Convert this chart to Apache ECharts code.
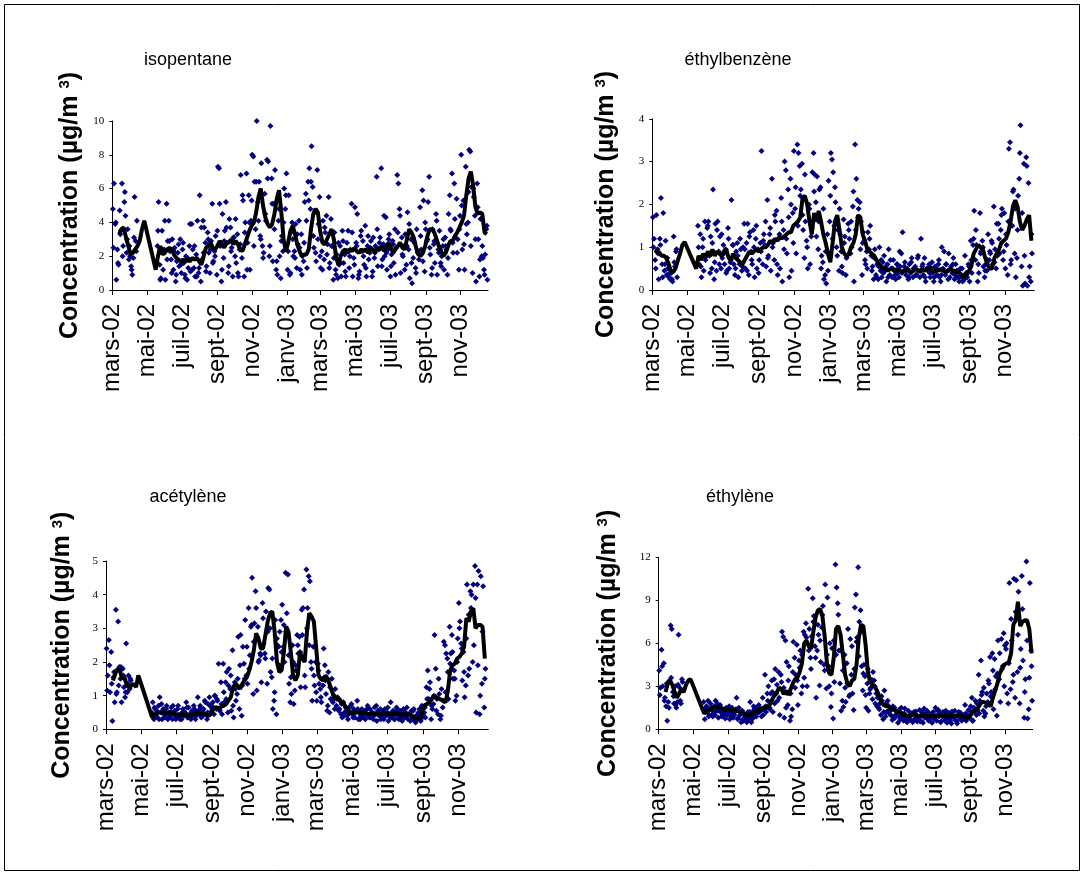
<!DOCTYPE html>
<html><head><meta charset="utf-8">
<script src="https://cdn.jsdelivr.net/npm/echarts@6/dist/echarts.min.js"></script>
<style>html,body{margin:0;padding:0;background:#fff}#c{width:1085px;height:877px}</style>
</head><body><div id="c"></div><script>
// ---------- axis labels ----------
const monthLabels = ['mars-02','mai-02','juil-02','sept-02','nov-02','janv-03','mars-03','mai-03','juil-03','sept-03','nov-03'];
const tickDates = ['2002-03-01','2002-05-01','2002-07-01','2002-09-01','2002-11-01','2003-01-01','2003-03-01','2003-05-01','2003-07-01','2003-09-01','2003-11-01'];
const titles = ['isopentane','éthylbenzène','acétylène','éthylène'];
const yTitle = '{a|Concentration (µg/m }{s|3}{a|)}';

// ---------- sampling days (days since 1 March 2002) ----------
const scatterDaysA = [1,3,5,7,9,11,13,15,17,19,21,23,25,27,29,31,33,35,37,39,41,43];
const scatterDaysD = [2,6,10,14,18,22,26,30,34,38,42];
const scatterDaysB = []; for (let d = 79; d <= 657; d += 2) scatterDaysB.push(d);
const scatterDaysC = []; for (let d = 80; d <= 656; d += 4) scatterDaysC.push(d);
const lineDays = []; for (let d = 4; d <= 656; d += 4) lineDays.push(d);

// ---------- isopentane ----------
const isoA = [4.8,6.3,3.9,0.6,2.4,1.5,4.7,3.5,6.3,2.6,5.2,4.4,2.2,3.6,1.8,2.0,1.4,0.9,1.9,5.5,2.9,4.1];
const isoD = [2.5,4.0,1.6,3.3,2.0,5.8,3.0,2.6,1.2,3.1,2.3];
const isoB = [
2.6,5.2,1.5,0.7,3.5,1.2,2.4,0.6,5.1,2.9,
4.1,2.3,1.8,3.0,1.2,2.5,0.5,1.7,2.2,1.4,
3.0,1.0,2.4,1.6,0.9,2.0,0.6,1.3,2.6,1.1,
3.9,2.4,1.3,0.8,2.1,4.1,1.0,5.6,0.5,1.8,
4.1,3.7,2.8,1.4,3.4,2.2,1.0,2.9,5.1,1.7,
2.3,3.2,0.9,7.3,7.2,2.6,0.5,4.5,1.9,3.5,
5.2,2.8,1.0,4.2,3.7,2.5,0.8,3.1,2.0,1.6,
3.3,0.8,2.4,6.8,1.9,5.3,0.8,4.0,6.9,2.8,
5.6,1.2,4.1,8.0,7.9,6.4,3.6,10.0,5.2,6.4,
3.2,7.5,2.6,2.2,5.7,4.1,7.7,7.6,2.0,9.7,
6.6,1.7,5.1,7.1,1.2,0.9,4.1,2.0,0.7,3.2,
2.3,6.0,4.8,6.9,1.2,5.6,0.9,3.4,4.0,2.0,
2.3,3.9,1.3,2.7,4.1,1.2,3.3,2.0,1.7,5.2,
5.7,1.3,6.4,7.2,4.8,8.5,6.1,2.5,4.6,1.7,
7.1,3.9,5.5,1.3,2.3,4.1,1.8,3.4,4.4,2.7,
5.5,1.6,4.2,2.6,0.6,3.4,1.2,2.1,0.7,1.5,
2.6,0.8,3.5,1.6,2.1,0.8,2.8,3.5,1.3,2.4,
5.1,0.8,1.9,4.9,2.8,4.5,0.7,1.1,3.2,2.3,
2.9,1.5,3.8,0.8,2.6,1.8,2.2,2.9,0.8,3.1,
1.9,2.6,6.7,1.4,2.4,3.1,7.2,1.8,2.7,2.0,
4.3,1.2,2.4,3.3,0.8,2.1,2.9,1.6,3.6,2.5,
6.8,6.3,4.8,1.0,3.1,2.0,2.6,3.3,1.5,4.6,
2.4,0.7,3.0,0.4,1.9,2.8,1.3,3.6,2.2,1.8,
4.9,2.4,5.9,5.3,1.1,3.6,2.9,5.2,6.7,2.1,
0.9,3.6,2.7,1.6,4.5,0.9,2.4,3.5,1.6,2.0,
2.6,1.2,3.1,2.4,0.9,4.5,5.6,3.5,6.9,2.2,
6.3,3.1,5.4,3.0,1.2,4.4,8.0,2.4,5.3,1.2,
7.3,3.3,4.0,8.3,8.2,6.1,1.0,5.5,4.4,0.5,
6.3,3.0,0.8,4.2,2.0,1.9,1.2,2.1,3.6,0.6];
const isoC = [
3.5,0.6,2.4,4.1,1.8,2.9,1.0,2.3,0.9,2.7,
1.5,2.8,0.7,1.9,3.9,1.2,2.6,0.8,1.3,3.7,
2.2,1.1,3.0,2.4,1.6,2.0,3.5,5.1,1.2,2.9,
3.7,1.4,2.3,3.1,4.2,1.0,2.7,5.6,3.4,1.2,
4.0,5.3,2.6,6.4,4.1,3.0,1.9,4.5,6.6,2.6,
5.1,3.6,1.7,4.8,2.9,4.0,5.6,2.3,1.0,3.0,
1.9,3.3,2.5,0.9,2.8,4.1,5.3,6.4,3.2,2.2,
3.0,2.0,1.2,3.7,2.1,1.3,2.6,1.9,0.9,2.8,
1.6,2.9,1.1,2.3,2.0,3.4,1.5,2.6,0.9,3.5,
2.0,1.3,3.2,2.5,1.1,2.2,3.6,2.8,1.4,4.4,
2.2,3.0,1.4,2.7,0.9,3.4,4.4,2.1,1.2,2.6,
3.9,1.6,2.9,1.0,2.3,3.2,1.7,4.0,3.0,2.5,
1.3,2.9,4.1,2.2,1.4,3.0,2.6,1.9,3.6,2.8,
4.2,2.2,3.6,5.0,2.7,3.9,5.8,2.6,6.0,3.0,
4.9,1.8,2.6,0.9,3.8];
const isoLine = [
null,null,3.3,3.6,3.7,3.1,2.6,2.1,2.2,2.4,
2.6,2.9,3.6,4.1,null,null,null,null,1.2,2.0,
2.6,2.1,2.2,2.4,2.5,2.4,2.1,1.9,1.8,1.7,
1.8,1.7,1.8,1.7,1.9,1.8,1.9,1.7,1.5,2.0,
2.5,2.6,2.8,2.5,2.4,2.6,2.9,2.7,2.5,2.8,
2.8,3.0,2.7,2.9,2.7,2.4,2.3,2.7,3.1,3.5,
3.8,4.0,4.6,5.5,6.0,5.0,4.3,3.9,3.7,3.9,
4.5,5.4,5.9,4.6,3.0,2.3,2.8,3.5,3.8,3.3,
2.7,2.3,2.0,2.1,2.1,2.4,3.6,4.5,4.8,4.6,
3.5,2.8,2.7,3.0,3.3,3.6,3.0,1.9,1.5,2.0,
2.3,2.4,2.2,2.4,2.3,2.5,2.3,2.2,2.4,2.3,
2.4,2.2,2.5,2.4,2.2,2.5,2.4,2.6,2.3,2.6,
2.8,2.5,2.2,2.4,2.6,2.8,2.5,2.4,3.0,3.6,
3.4,3.1,2.5,2.1,2.0,2.2,2.6,3.2,3.6,3.6,
3.4,3.0,2.6,2.3,2.0,2.2,2.6,2.9,2.9,3.2,
3.4,3.7,4.0,4.4,5.6,6.6,7.0,6.2,4.9,4.5,
4.6,4.5,3.4,3.3];

// ---------- éthylbenzène ----------
const ethbA = [1.7,1.2,0.7,1.75,0.95,0.25,1.2,2.15,0.6,1.8,0.45,1.15,0.35,0.5,0.3,0.25,0.4,0.2,1.25,0.55,0.9,0.3];
const ethbD = [1.0,0.5,0.85,1.05,0.3,0.6,0.75,0.4,0.25,0.65,0.95];
const ethbB = [
1.5,0.6,1.3,0.3,1.0,0.45,1.6,0.8,1.45,1.6,
0.8,1.25,0.5,2.35,0.25,1.55,0.45,1.6,0.9,1.25,
0.5,0.75,1.05,0.6,0.95,0.45,1.45,0.5,0.65,2.1,
1.05,0.6,0.35,0.9,1.1,0.3,0.6,0.95,0.45,1.0,
1.55,0.5,1.1,1.55,0.35,1.35,0.9,0.6,1.4,0.3,
1.2,0.5,0.95,0.7,1.1,3.25,0.6,1.3,1.05,0.55,
2.1,0.8,1.3,0.45,2.6,1.1,0.7,1.6,1.85,0.35,
1.2,0.5,2.15,0.2,1.4,3.0,2.8,0.85,2.35,0.3,
2.6,0.45,1.8,3.25,1.9,0.85,3.4,3.2,2.9,2.35,
2.95,1.4,0.75,1.6,1.15,0.5,2.0,0.6,1.25,2.75,
3.2,2.7,2.05,2.65,0.95,2.35,2.4,0.8,0.65,0.25,
0.35,0.15,1.3,2.55,1.6,3.2,3.05,2.75,1.5,2.05,
1.0,1.4,0.45,1.3,0.9,0.4,1.65,1.25,0.35,0.8,
1.55,1.2,0.85,1.0,1.95,0.2,3.4,2.6,2.1,1.9,
2.05,1.6,0.35,1.35,1.15,0.6,0.9,1.35,0.95,1.5,
0.8,0.55,0.25,0.95,0.35,0.6,0.25,1.0,0.45,0.3,
0.65,0.8,0.45,0.2,0.6,0.95,0.35,0.5,0.3,0.7,
0.45,0.25,0.6,0.4,0.3,0.55,0.85,1.35,0.45,0.65,
0.35,0.5,0.25,0.6,0.4,0.75,0.3,0.5,0.55,0.35,
0.75,0.45,0.3,1.2,0.55,0.35,0.75,0.2,0.5,0.45,
0.6,0.3,0.5,0.4,0.2,0.55,0.45,0.35,0.6,0.3,
0.2,1.0,0.5,0.9,0.35,0.6,0.45,0.85,0.3,0.55,
0.4,0.75,0.25,0.6,0.45,0.3,0.2,0.5,0.35,0.2,
0.25,0.8,0.4,0.3,0.6,0.2,1.15,0.4,1.05,1.85,
0.7,1.05,0.2,0.4,1.8,0.9,1.15,0.55,0.3,0.6,
0.45,1.3,0.7,0.85,1.15,0.6,1.95,0.95,0.5,0.8,
1.55,0.85,1.4,1.9,0.7,1.8,0.5,1.05,0.35,3.3,
3.45,0.7,1.5,2.35,0.85,0.3,0.75,2.2,2.6,3.85,
0.55,0.1,2.95,0.15,3.1,0.1,2.5,0.55,0.2,0.85];
const ethbC = [
1.0,0.55,1.2,0.7,1.5,0.4,1.1,0.65,1.4,0.6,
1.3,0.85,0.4,1.2,0.7,1.05,0.5,0.8,1.2,0.55,
0.95,0.45,1.25,0.7,1.0,1.5,0.4,0.9,1.15,1.6,
0.75,1.45,1.0,1.75,0.6,1.3,1.6,0.95,1.2,1.7,
2.0,1.1,2.4,1.5,2.2,1.75,2.7,1.0,1.9,1.45,
2.3,1.25,1.6,0.5,1.9,0.9,0.45,2.2,1.2,2.4,
0.8,1.9,0.55,1.1,0.75,1.4,1.6,2.3,1.4,1.7,
0.95,1.1,0.7,0.5,1.2,0.45,0.75,0.3,0.55,0.7,
0.4,0.55,0.3,0.7,0.5,0.35,0.6,0.9,0.4,0.55,
0.45,0.3,0.65,0.5,0.35,0.8,0.45,0.6,0.3,0.5,
0.4,0.65,0.3,0.5,0.7,0.35,0.45,0.6,0.25,0.5,
0.6,0.35,0.45,0.3,0.5,0.25,0.4,0.55,0.7,1.2,
1.4,0.6,0.85,1.0,0.45,0.7,0.9,1.1,0.65,1.55,
1.2,1.75,0.9,1.3,1.6,0.6,2.3,1.9,1.4,3.2,
1.8,0.8,2.9,0.3,1.3];
const ethbLine = [
0.93,0.9,0.88,0.8,0.8,0.75,0.62,0.45,0.42,0.5,
0.68,0.85,1.05,1.12,null,null,null,null,0.5,0.8,
0.7,0.85,0.75,0.9,0.8,0.95,0.8,0.9,0.85,0.8,
0.9,0.95,0.75,0.7,0.85,0.75,0.7,0.65,0.6,0.7,
0.8,0.9,0.85,0.9,0.95,0.9,0.95,1.0,1.0,1.05,
1.15,1.1,1.2,1.15,1.25,1.2,1.25,1.3,1.35,1.35,
1.5,1.55,1.6,1.7,2.15,2.2,2.0,1.6,1.3,1.8,
1.6,1.85,1.6,1.3,1.1,0.85,0.65,1.1,1.6,1.75,
1.4,1.0,0.85,0.8,0.85,1.0,1.1,1.3,1.75,1.7,
1.3,1.15,0.95,0.9,0.85,0.8,0.7,0.6,0.55,0.5,
0.5,0.45,0.5,0.48,0.45,0.5,0.45,0.42,0.45,0.48,
0.45,0.42,0.45,0.5,0.45,0.42,0.48,0.45,0.5,0.55,
0.45,0.42,0.48,0.45,0.5,0.45,0.42,0.45,0.5,0.45,
0.45,0.42,0.4,0.3,0.35,0.35,0.45,0.55,0.85,0.95,
1.05,1.0,0.95,0.75,0.6,0.5,0.5,0.75,0.85,0.95,
1.1,1.15,1.2,1.35,1.6,1.95,2.1,1.95,1.6,1.4,
1.5,1.65,1.75,1.15];

// ---------- acétylène ----------
const acetA = [2.4,1.6,2.65,1.1,2.3,0.25,1.55,0.8,3.55,1.1,3.2,1.85,1.5,0.8,1.8,1.25,0.95,2.55,1.1,1.6,1.2,1.45];
const acetD = [1.15,1.9,1.35,1.7,1.05,1.3,1.85,1.6,1.1,1.35,1.5];
const acetB = [
0.5,0.8,0.3,0.6,0.45,0.35,0.7,0.95,0.5,0.3,
0.6,0.35,0.45,0.7,0.3,0.5,0.4,0.65,0.3,0.45,
0.55,0.3,0.4,0.7,0.35,0.45,0.3,0.6,0.4,0.5,
0.8,0.35,0.65,0.45,0.3,0.55,0.4,0.6,0.3,0.5,
0.95,0.45,0.7,0.35,0.55,0.6,0.85,0.45,0.3,0.75,
0.95,0.5,0.7,0.8,0.45,1.0,0.6,0.85,1.95,0.55,
1.4,0.45,1.95,0.8,1.4,1.7,0.5,1.8,1.2,0.55,
2.35,0.35,1.4,0.85,1.05,2.75,0.6,2.8,0.4,2.45,
1.95,3.25,1.6,1.35,3.6,2.2,3.05,4.5,1.05,3.15,
4.1,1.15,3.05,2.05,2.25,1.4,3.75,2.55,2.25,3.5,
1.35,4.2,4.15,1.7,1.55,0.6,0.85,3.25,0.45,2.5,
2.45,2.9,3.25,3.7,2.45,2.0,4.65,3.45,4.6,1.35,
0.8,1.05,2.5,0.75,1.15,1.75,2.8,2.25,2.75,1.25,
3.55,3.6,4.15,1.25,4.75,3.6,4.55,4.4,2.0,0.85,
2.45,1.3,2.0,0.85,1.95,1.35,1.2,0.8,1.5,2.4,
1.9,1.05,0.55,1.7,0.5,0.9,1.5,0.8,1.0,1.2,
0.7,0.95,0.55,0.85,0.45,0.35,0.8,0.5,0.65,0.4,
0.3,0.65,0.5,0.75,0.45,0.6,0.35,0.55,0.85,0.3,
0.5,0.4,0.6,0.35,0.55,0.3,0.45,0.7,0.4,0.6,
0.35,0.5,0.3,0.65,0.45,0.25,0.55,0.4,0.6,0.35,
0.45,0.3,0.6,0.4,0.5,0.25,0.45,0.8,0.35,0.55,
0.3,0.5,0.65,0.4,0.3,0.55,0.45,0.25,0.6,0.35,
0.5,0.65,0.3,0.45,0.25,0.55,0.35,0.6,0.25,0.4,
0.3,0.5,0.6,0.25,0.7,0.45,0.5,0.35,1.25,1.75,
0.9,1.4,0.3,0.6,0.75,2.8,1.8,0.9,0.45,1.05,
0.3,1.2,0.65,2.6,2.5,2.25,2.1,0.9,3.05,2.25,
2.8,1.5,1.75,0.85,1.0,2.7,3.75,3.2,2.55,1.45,
2.3,0.95,1.3,4.3,1.6,1.8,4.1,4.0,2.0,2.5,
4.85,0.5,4.3,4.7,0.45,4.55,1.35,4.25,0.65,1.8];
const acetC = [
0.4,0.65,0.55,0.3,0.75,0.45,0.6,0.35,0.5,0.7,
0.4,0.6,0.3,0.5,0.45,0.65,0.35,0.5,0.7,0.4,
0.55,0.65,0.4,0.8,0.5,0.7,0.6,1.0,0.9,0.6,
0.75,1.1,0.9,1.3,1.6,0.7,1.2,1.5,1.9,1.3,
1.5,2.45,1.8,3.1,2.6,3.6,2.0,2.2,3.3,2.1,
2.9,3.0,2.1,1.1,2.7,1.9,2.3,3.1,2.9,2.2,
1.55,2.0,1.9,2.5,2.3,2.8,1.6,3.0,2.5,1.8,
1.6,1.1,1.75,0.95,1.3,1.45,0.7,1.25,0.85,0.6,
0.9,0.6,0.75,0.4,0.55,0.45,0.7,0.35,0.5,0.6,
0.3,0.55,0.45,0.6,0.35,0.5,0.4,0.7,0.45,0.3,
0.55,0.4,0.65,0.35,0.5,0.3,0.6,0.45,0.35,0.5,
0.35,0.45,0.3,0.55,0.2,0.4,0.6,0.35,0.65,0.9,
1.2,0.7,1.0,0.55,1.5,0.4,0.85,1.1,1.7,1.95,
2.3,1.5,2.0,3.0,2.4,1.7,2.7,3.4,3.6,4.3,
3.9,1.9,1.0,2.9,1.5];
const acetLine = [
null,null,1.45,1.65,1.8,1.75,1.5,1.55,1.3,1.25,
1.3,1.35,1.25,1.6,null,null,null,null,null,0.35,
0.45,0.45,0.5,0.5,0.52,0.5,0.48,0.5,0.5,0.45,
0.45,0.42,0.43,0.45,0.42,0.4,0.42,0.45,0.5,0.48,
0.45,0.47,0.45,0.4,0.42,0.55,0.65,0.65,0.62,0.68,
0.7,0.75,0.85,0.95,1.25,1.35,1.3,1.2,1.35,1.45,
1.55,1.75,2.0,2.35,2.85,2.7,2.4,2.4,2.8,3.2,
3.45,3.5,2.9,2.0,1.7,1.75,2.3,3.05,2.9,2.3,
1.6,1.45,1.6,2.3,2.1,2.0,2.9,3.45,3.35,3.2,
2.4,1.6,1.5,1.45,1.6,1.5,1.3,1.1,0.9,0.95,
0.9,0.8,0.75,0.65,0.55,0.5,0.5,0.52,0.5,0.5,
0.48,0.5,0.47,0.45,0.47,0.48,0.45,0.47,0.45,0.48,
0.46,0.45,0.47,0.45,0.44,0.48,0.45,0.43,0.45,0.44,
0.45,0.43,0.38,0.32,0.3,0.38,0.55,0.72,0.75,0.8,
0.9,1.0,0.95,0.92,0.88,0.85,0.8,1.15,1.75,1.9,
1.95,2.1,2.15,2.25,2.45,3.3,3.2,3.5,3.6,3.0,
3.1,3.1,3.05,2.1];

// ---------- éthylène ----------
const ethyA = [4.1,2.9,5.55,3.0,4.6,2.2,1.6,0.6,1.9,3.4,7.25,7.0,2.6,1.8,3.0,1.5,1.9,6.6,2.9,1.8,3.5,2.7];
const ethyD = [2.4,4.4,2.0,3.2,1.5,3.6,2.3,1.7,3.1,2.0,3.3];
const ethyB = [
1.9,0.7,1.5,1.2,2.0,1.0,1.8,1.35,0.9,1.6,
1.0,1.3,1.8,0.8,1.6,1.2,0.9,1.4,1.1,0.75,
1.5,1.0,1.3,0.7,1.15,1.5,0.8,1.0,1.3,2.2,
0.7,1.5,1.0,0.5,1.3,0.6,1.0,0.8,0.5,1.2,
0.8,1.9,0.5,1.2,1.6,0.9,1.5,1.1,1.35,1.2,
1.4,0.9,2.2,1.4,3.8,1.2,2.5,3.0,1.5,2.5,
3.4,1.2,3.5,4.2,2.5,2.0,4.0,1.0,3.8,6.8,
6.45,0.8,6.2,4.7,1.7,4.4,0.6,0.9,1.4,6.1,
5.0,3.8,5.9,1.7,4.8,5.5,2.5,3.0,6.8,6.6,
7.4,3.0,9.8,7.0,5.0,6.5,9.15,7.9,5.8,2.2,
5.5,6.6,3.05,4.7,7.1,8.6,4.5,10.1,2.85,9.2,
4.4,6.0,1.55,5.65,0.75,3.3,11.5,9.9,8.8,5.5,
3.2,1.3,2.0,1.55,5.2,1.9,4.6,7.0,2.3,6.3,
3.8,2.5,1.35,8.5,9.4,6.4,11.3,7.5,8.3,4.4,
2.7,4.5,3.7,1.5,3.2,1.3,2.5,2.9,3.45,4.0,
3.4,1.8,2.5,2.2,1.5,1.8,1.0,2.0,0.7,2.7,
0.9,1.2,2.0,1.6,1.05,1.35,0.65,0.85,1.5,1.0,
1.2,0.45,0.9,0.7,1.5,1.05,0.6,1.45,0.8,0.5,
1.3,0.9,0.65,1.1,0.5,1.2,0.75,1.0,0.55,0.85,
1.35,0.6,1.2,0.45,1.45,1.0,0.8,1.2,0.6,0.9,
1.0,0.45,1.2,0.8,1.5,0.6,1.3,0.9,1.1,0.55,
0.9,1.1,0.65,1.3,0.45,0.8,1.15,0.6,0.4,1.0,
0.8,1.3,0.6,0.4,1.0,0.8,1.15,0.6,1.0,0.8,
1.7,0.6,1.0,1.35,0.8,1.6,2.2,0.6,1.5,2.0,
1.0,1.35,3.8,2.0,4.8,2.6,1.3,0.9,1.1,2.5,
1.9,3.2,5.05,2.6,5.3,1.4,4.9,3.7,0.95,6.2,
3.5,1.9,6.3,4.4,6.7,5.85,5.6,2.5,1.8,10.2,
2.8,6.2,3.3,10.5,2.2,10.4,4.0,9.6,1.8,5.6,
10.7,4.8,0.8,3.5,11.7,0.75,1.4,10.2,5.5,2.0];
const ethyC = [
1.3,1.6,0.9,1.5,1.1,2.0,1.3,1.7,1.0,1.4,
1.2,1.6,0.9,1.1,1.4,0.8,1.2,0.7,1.0,0.6,
1.2,0.7,1.4,0.9,1.7,1.3,1.0,1.6,2.0,1.4,
2.6,1.8,3.1,2.2,3.3,2.9,1.5,3.4,2.5,4.0,
2.9,3.4,4.3,5.2,3.6,6.4,5.5,4.2,7.5,5.0,
7.3,6.2,8.0,4.1,5.2,3.0,2.5,6.2,5.2,8.0,
5.5,4.1,2.9,3.2,2.4,5.8,4.2,6.1,5.1,6.8,
3.9,2.4,4.2,2.8,2.1,3.0,1.6,1.4,2.3,1.2,
1.8,1.3,1.0,1.6,0.8,1.2,1.4,0.9,1.1,0.7,
0.85,1.1,0.6,1.25,0.9,0.55,1.15,0.8,1.3,0.7,
1.1,0.75,0.95,1.35,0.5,1.2,0.85,1.0,0.7,1.25,
0.9,0.55,1.2,0.95,0.7,1.1,0.8,1.3,0.6,1.4,
1.8,1.1,2.4,2.9,1.6,3.4,2.3,4.1,2.8,3.9,
5.3,4.2,3.0,6.0,4.6,7.7,3.8,8.2,6.6,4.3,
8.4,2.6,6.2,3.6,4.4];
const ethyLine = [
null,null,2.6,3.2,3.4,3.1,2.6,2.2,2.5,2.8,
2.6,3.1,3.4,3.5,null,null,null,null,null,1.1,
1.25,1.35,1.45,1.5,1.6,1.55,1.5,1.45,1.3,1.4,
1.4,1.3,1.35,1.3,1.25,1.2,1.15,1.05,1.0,0.95,
1.05,1.15,1.25,1.35,1.45,1.5,1.45,1.6,1.75,2.1,
2.4,2.6,2.9,2.8,2.45,2.7,2.4,2.8,3.2,3.5,
3.6,4.0,4.6,6.0,6.2,5.8,5.6,6.8,7.8,8.3,
8.4,7.9,6.5,4.6,3.9,3.8,5.0,7.0,7.2,6.6,
5.2,3.8,3.2,3.0,3.4,3.5,4.5,6.4,7.3,7.2,
5.9,4.0,3.3,3.1,3.0,2.7,2.3,1.85,1.7,1.6,
1.6,1.45,1.4,1.3,1.25,1.2,1.1,1.0,0.95,0.9,
0.95,1.05,1.0,0.95,0.95,0.9,0.95,0.95,0.9,0.95,
0.95,0.9,0.95,1.0,0.95,0.95,0.9,0.95,0.95,0.95,
0.95,1.05,1.0,0.9,0.85,0.8,0.95,1.15,1.25,1.4,
1.65,1.9,1.9,1.85,1.75,1.6,2.2,2.7,3.2,3.9,
4.2,4.5,4.6,4.7,5.3,7.3,7.6,8.9,7.2,7.5,
7.6,7.6,7.0,5.3];

const yMaxes = [10, 4, 5, 12];
const yIntervals = [2, 1, 1, 3];

// ---------- layout (pixels) ----------
const layout = [
  {grid:{left:112.3, top:121, width:375.7, height:169}, xMax:658, title:[188,51], nameGap:30},
  {grid:{left:652.3, top:118.8, width:382, height:171.2}, xMax:661, title:[738,51], nameGap:34},
  {grid:{left:106, top:561, width:382.3, height:168.3}, xMax:662, title:[188,488], nameGap:31},
  {grid:{left:658.7, top:557.3, width:374, height:172}, xMax:658, title:[740,488], nameGap:38}
];

const dayMs = 86400000, t0 = Date.parse('2002-03-01T00:00:00Z');
const tickDays = tickDates.map(d => Math.round((Date.parse(d + 'T00:00:00Z') - t0) / dayMs));
function labelFor(v) {
  const i = tickDays.findIndex(t => Math.abs(t - v) < 2);
  return i >= 0 ? monthLabels[i] : '';
}

const scatterSets = [
  [isoA, isoD, isoB, isoC], [ethbA, ethbD, ethbB, ethbC],
  [acetA, acetD, acetB, acetC], [ethyA, ethyD, ethyB, ethyC]];
const scatterDaySets = [scatterDaysA, scatterDaysD, scatterDaysB, scatterDaysC];
const lineSets = [isoLine, ethbLine, acetLine, ethyLine];

const option = {
  animation: false,
  backgroundColor: '#fff',
  title: titles.map((t, i) => ({
    text: t, left: layout[i].title[0], top: layout[i].title[1], textAlign: 'center', padding: 0,
    textStyle: {fontFamily: 'Liberation Sans', fontSize: 18, fontWeight: 'normal', color: '#000'}
  })),
  graphic: [{type: 'rect', silent: true, shape: {x: 4.5, y: 4.5, width: 1075, height: 866},
             style: {fill: 'none', stroke: '#000', lineWidth: 1}}],
  grid: layout.map(l => Object.assign({containLabel: false}, l.grid)),
  xAxis: layout.map((l, i) => ({
    type: 'value', gridIndex: i, min: 0, max: l.xMax, interval: 61,
    axisLine: {show: true, lineStyle: {color: '#000', width: 1}},
    axisTick: {show: true, inside: false, length: 5, customValues: tickDays, lineStyle: {color: '#000'}},
    axisLabel: {customValues: tickDays, rotate: 90, margin: 14, fontFamily: 'Liberation Sans', fontSize: 24, color: '#000',
                formatter: labelFor},
    splitLine: {show: false}
  })),
  yAxis: layout.map((l, i) => ({
    type: 'value', gridIndex: i, min: 0, max: yMaxes[i], interval: yIntervals[i],
    axisLine: {show: true, lineStyle: {color: '#000', width: 1}},
    axisTick: {show: true, inside: false, length: 3, lineStyle: {color: '#000'}},
    axisLabel: {margin: 8, fontFamily: 'Liberation Serif', fontSize: 11, color: '#000'},
    splitLine: {show: false},
    name: yTitle, nameLocation: 'middle', nameRotate: 90, nameGap: l.nameGap,
    nameTextStyle: {rich: {
      a: {fontFamily: 'Liberation Sans', fontSize: 25, fontWeight: 'bold', color: '#000'},
      s: {fontFamily: 'Liberation Sans', fontSize: 15, fontWeight: 'bold', color: '#000', verticalAlign: 'top'}
    }}
  })),
  series: []
};

scatterSets.forEach((sets, i) => {
  let pts = [];
  sets.forEach((vals, j) => {
    pts = pts.concat(scatterDaySets[j].map((d, k) => [d, vals[k]]));
  });
  option.series.push({
    type: 'scatter', xAxisIndex: i, yAxisIndex: i, data: pts,
    symbol: 'diamond', symbolSize: 6, itemStyle: {color: '#000080', opacity: 1}, z: 2
  });
});
lineSets.forEach((vals, i) => {
  option.series.push({
    type: 'line', xAxisIndex: i, yAxisIndex: i,
    data: lineDays.map((d, k) => [d, vals[k] == null ? '-' : vals[k]]),
    showSymbol: false, connectNulls: true, smooth: false,
    lineStyle: {color: '#000', width: 4}, z: 3
  });
});

const chart = echarts.init(document.getElementById('c'));
chart.setOption(option);
</script></body></html>
